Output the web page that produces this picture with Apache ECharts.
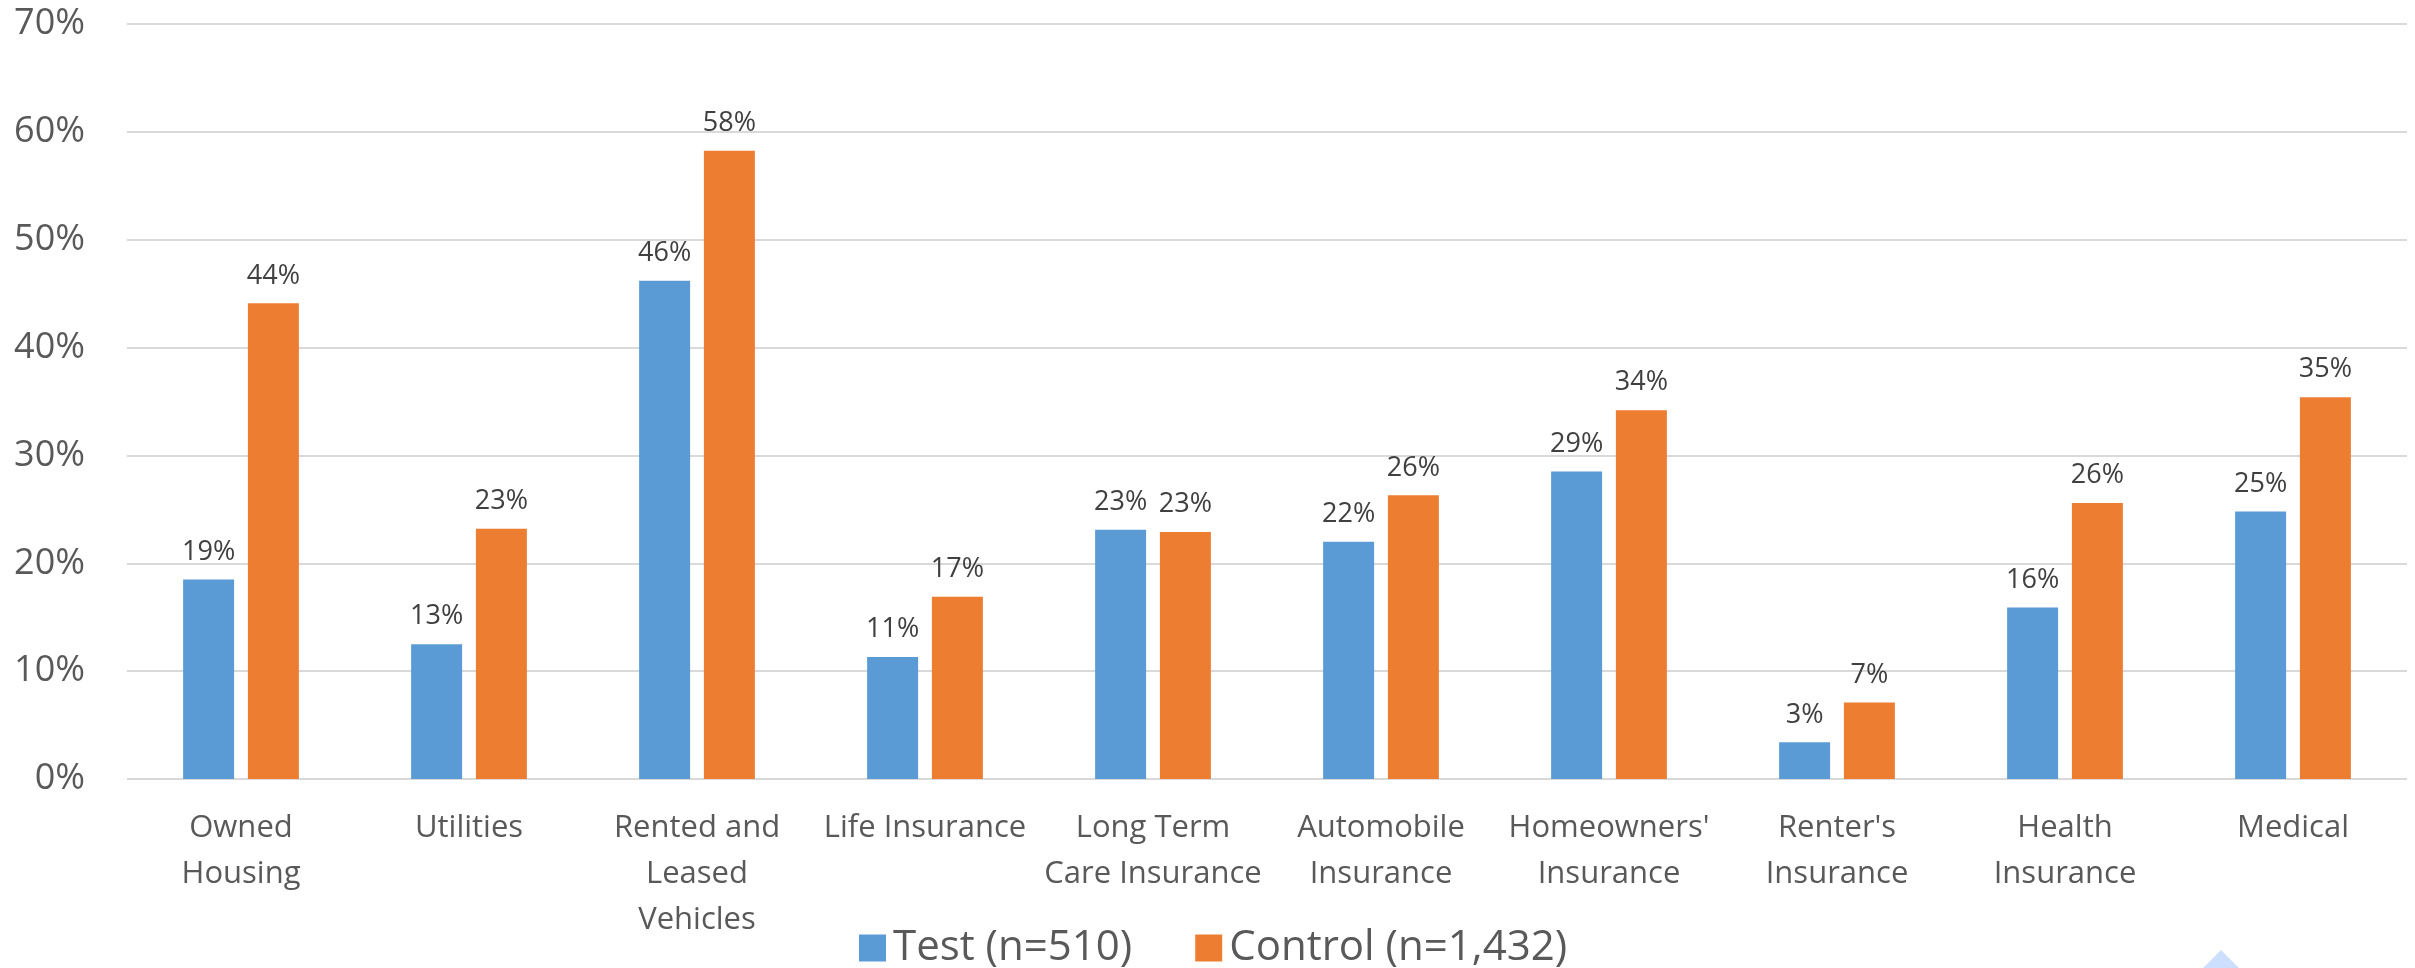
<!DOCTYPE html>
<html>
<head>
<meta charset="utf-8">
<script src="https://cdn.jsdelivr.net/npm/echarts@6/dist/echarts.min.js"></script>
<style>
html,body{margin:0;padding:0;background:#fff;}
#chart{width:2415px;height:968px;}
</style>
</head>
<body>
<div id="chart"></div>
<script>
var categories = [
  "Owned\nHousing", "Utilities", "Rented and\nLeased\nVehicles", "Life Insurance",
  "Long Term\nCare Insurance", "Automobile\nInsurance", "Homeowners'\nInsurance",
  "Renter's\nInsurance", "Health\nInsurance", "Medical"
];
var testValues = [18.5, 12.5, 46.2, 11.3, 23.1, 22.0, 28.5, 3.4, 15.9, 24.8];
var controlValues = [44.1, 23.2, 58.25, 16.9, 22.9, 26.3, 34.2, 7.1, 25.6, 35.4];
var seriesNames = ["Test (n=510)", "Control (n=1,432)"];
var yTicks = { min: 0, max: 70, interval: 10 };

var FONT = "'Open Sans', 'Noto Sans', sans-serif";
var chart = echarts.init(document.getElementById('chart'), null, { renderer: 'canvas' });

var labelCfg = {
  show: true,
  position: 'top',
  distance: 14,
  fontFamily: FONT,
  fontSize: 27,
  color: '#404040',
  formatter: function (p) { return Math.round(p.value) + '%'; }
};

chart.setOption({
  animation: false,
  backgroundColor: '#ffffff',
  grid: { left: 127, right: 8, top: 24, bottom: 189, containLabel: false },
  legend: {
    left: 859,
    top: 927,
    padding: 0,
    itemWidth: 27,
    itemHeight: 27,
    itemGap: 63,
    icon: 'rect',
    textStyle: { fontFamily: FONT, fontSize: 42, color: '#595959', lineHeight: 27, padding: [0, 0, 0, 2] },
    data: seriesNames
  },
  xAxis: {
    type: 'category',
    data: categories,
    axisLine: { show: false },
    axisTick: { show: false },
    axisLabel: {
      interval: 0,
      margin: 26,
      fontFamily: FONT,
      fontSize: 31,
      lineHeight: 46,
      color: '#595959'
    }
  },
  yAxis: {
    type: 'value',
    min: yTicks.min,
    max: yTicks.max,
    interval: yTicks.interval,
    axisLine: { show: false },
    axisTick: { show: false },
    axisLabel: {
      formatter: '{value}%',
      margin: 42,
      fontFamily: FONT,
      fontSize: 36,
      color: '#595959'
    },
    splitLine: { lineStyle: { color: '#d9d9d9', width: 2 } }
  },
  series: [
    {
      name: seriesNames[0],
      type: 'bar',
      data: testValues,
      barWidth: 51,
      barGap: '27%',
      itemStyle: { color: '#5B9BD5' },
      label: labelCfg
    },
    {
      name: seriesNames[1],
      type: 'bar',
      data: controlValues,
      barWidth: 51,
      barGap: '27%',
      itemStyle: { color: '#ED7D31' },
      label: labelCfg
    }
  ],
  graphic: [
    {
      type: 'polygon',
      shape: { points: [[2221, 950], [2203, 968], [2239, 968]] },
      style: { fill: '#cddfff' },
      silent: true
    }
  ]
});
</script>
</body>
</html>
